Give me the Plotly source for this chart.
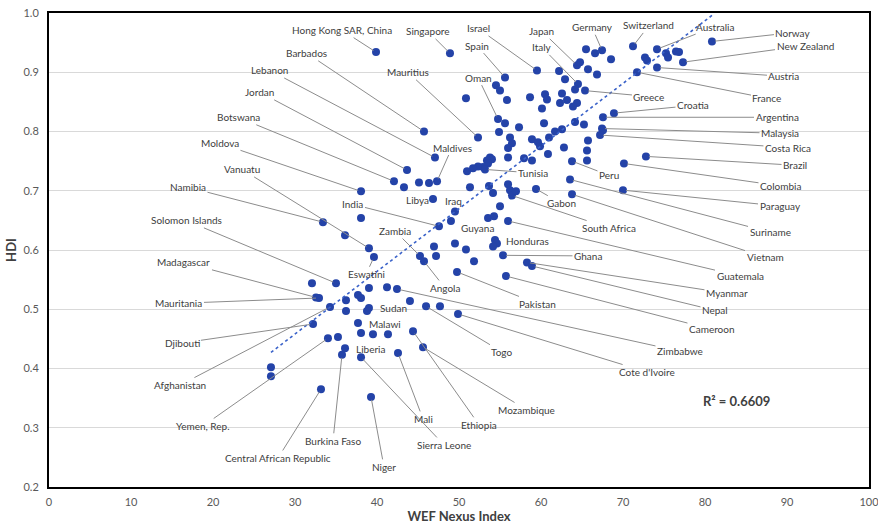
import numpy as np
import plotly.graph_objects as go

# ---- data ----
countries = [
    "Hong Kong SAR, China", "Singapore", "Israel", "Spain", "", "", "Japan", "", "", "",
    "", "", "Germany", "", "Switzerland", "Australia", "", "", "", "",
    "", "", "Norway", "New Zealand", "Austria", "France", "Italy", "", "Greece", "",
    "", "", "", "", "", "", "", "", "", "",
    "", "", "Oman", "", "", "", "", "", "Croatia", "Argentina",
    "Malaysia", "", "Costa Rica", "", "", "", "", "Peru", "Brazil", "Colombia",
    "", "Mauritius", "", "", "", "", "", "", "", "",
    "Barbados", "Lebanon", "", "", "", "", "", "", "", "",
    "", "", "", "", "", "Tunisia", "Jordan", "Botswana", "", "",
    "", "Maldives", "", "", "", "", "", "South Africa", "", "Gabon",
    "Suriname", "Vietnam", "Paraguay", "Moldova", "Libya", "Iraq", "Guyana", "India", "", "",
    "", "Guatemala", "Namibia", "", "", "", "Honduras", "", "", "",
    "", "", "", "Zambia", "Angola", "Ghana", "Myanmar", "Nepal", "Cameroon", "Pakistan",
    "Vanuatu", "Eswatini", "Solomon Islands", "", "Madagascar", "Mauritania", "Afghanistan", "", "", "",
    "", "", "", "Zimbabwe", "", "Sudan", "", "Togo", "", "Cote d'Ivoire",
    "Djibouti", "Malawi", "", "", "", "Ethiopia", "Yemen, Rep.", "", "Liberia", "Burkina Faso",
    "Sierra Leone", "Mali", "Mozambique", "Central African Republic", "Niger", "", "",
]

wef_index = [
    39.88, 48.90, 59.51, 55.61, 62.20, 62.93, 64.39, 64.76, 65.73, 66.83,
    65.49, 66.59, 67.44, 68.54, 71.22, 74.15, 72.68, 72.93, 75.24, 75.49,
    76.46, 76.83, 80.85, 77.32, 74.15, 71.71, 64.51, 64.15, 65.37, 62.56,
    63.17, 62.32, 64.39, 63.90, 54.51, 55.00, 50.85, 55.85, 58.66, 60.49,
    60.73, 60.12, 54.76, 55.61, 57.32, 60.37, 64.15, 65.24, 68.90, 67.56,
    67.44, 67.56, 67.20, 65.73, 65.61, 65.61, 62.80, 63.78, 72.80, 70.12,
    54.88, 52.32, 56.22, 56.46, 58.90, 59.63, 59.88, 60.98, 61.71, 62.56,
    45.73, 47.07, 55.98, 55.98, 57.93, 58.90, 60.85, 53.78, 54.02, 53.41,
    53.54, 52.93, 52.32, 51.71, 50.98, 53.17, 43.66, 42.07, 43.29, 45.12,
    46.34, 47.32, 51.34, 53.66, 54.15, 55.98, 56.22, 56.46, 56.95, 59.39,
    63.54, 63.78, 70.00, 38.05, 46.83, 49.51, 49.02, 47.56, 55.00, 53.54,
    54.27, 55.98, 33.41, 38.05, 36.10, 54.39, 54.63, 54.15, 46.95, 47.20,
    49.51, 50.85, 51.83, 45.24, 45.73, 55.37, 58.29, 58.90, 55.73, 49.76,
    39.02, 39.63, 35.00, 32.07, 32.56, 32.93, 34.27, 36.22, 36.22, 37.68,
    38.05, 39.02, 41.22, 42.44, 44.02, 39.02, 38.78, 45.98, 47.68, 49.88,
    32.20, 37.68, 38.05, 39.51, 41.34, 44.39, 34.02, 35.24, 36.10, 35.73,
    38.05, 42.56, 45.61, 33.17, 39.27, 27.07, 27.07,
]

hdi = [
    0.934, 0.932, 0.903, 0.891, 0.902, 0.888, 0.912, 0.917, 0.905, 0.896,
    0.939, 0.932, 0.937, 0.922, 0.944, 0.939, 0.925, 0.920, 0.932, 0.925,
    0.935, 0.934, 0.952, 0.917, 0.908, 0.900, 0.880, 0.871, 0.869, 0.864,
    0.853, 0.848, 0.848, 0.842, 0.878, 0.869, 0.856, 0.853, 0.858, 0.863,
    0.854, 0.839, 0.821, 0.814, 0.807, 0.814, 0.816, 0.812, 0.831, 0.824,
    0.805, 0.802, 0.794, 0.785, 0.768, 0.751, 0.773, 0.750, 0.758, 0.746,
    0.799, 0.790, 0.790, 0.780, 0.787, 0.782, 0.775, 0.790, 0.800, 0.804,
    0.800, 0.756, 0.772, 0.756, 0.755, 0.751, 0.762, 0.756, 0.753, 0.751,
    0.746, 0.740, 0.741, 0.738, 0.733, 0.736, 0.735, 0.716, 0.706, 0.714,
    0.713, 0.716, 0.706, 0.708, 0.696, 0.711, 0.701, 0.692, 0.699, 0.703,
    0.719, 0.694, 0.701, 0.699, 0.686, 0.665, 0.649, 0.640, 0.674, 0.654,
    0.657, 0.649, 0.647, 0.654, 0.625, 0.617, 0.611, 0.606, 0.606, 0.590,
    0.611, 0.601, 0.581, 0.590, 0.581, 0.591, 0.579, 0.573, 0.556, 0.563,
    0.603, 0.588, 0.544, 0.544, 0.520, 0.519, 0.504, 0.515, 0.497, 0.524,
    0.519, 0.536, 0.537, 0.534, 0.514, 0.502, 0.497, 0.505, 0.505, 0.492,
    0.475, 0.477, 0.460, 0.458, 0.458, 0.463, 0.451, 0.453, 0.434, 0.423,
    0.419, 0.426, 0.436, 0.365, 0.352, 0.402, 0.387,
]

r2_text = "R² = 0.6609"

# label text placement (data coordinates of the label centre)
label_place = {
    "Hong Kong SAR, China": (35.73, 0.971), "Singapore": (46.22, 0.969),
    "Israel": (52.32, 0.974), "Spain": (52.20, 0.945), "Japan": (60.12, 0.969),
    "Italy": (60.12, 0.942), "Barbados": (31.46, 0.932), "Mauritius": (43.78, 0.900),
    "Oman": (52.32, 0.891), "Maldives": (49.15, 0.773), "Tunisia": (59.02, 0.730),
    "Lebanon": (26.95, 0.903), "Jordan": (25.73, 0.866), "Botswana": (23.05, 0.824),
    "Moldova": (20.85, 0.780), "Vanuatu": (23.54, 0.736),
    "Germany": (66.22, 0.976), "Switzerland": (73.17, 0.979), "Australia": (81.22, 0.977),
    "Norway": (90.73, 0.967), "New Zealand": (92.20, 0.945), "Austria": (89.63, 0.893),
    "France": (87.56, 0.856), "Greece": (73.17, 0.859), "Croatia": (78.54, 0.844),
    "Argentina": (88.78, 0.824), "Malaysia": (89.15, 0.797), "Costa Rica": (90.12, 0.773),
    "Brazil": (90.98, 0.743), "Peru": (68.29, 0.726), "Colombia": (89.27, 0.708),
    "Paraguay": (89.15, 0.674), "South Africa": (68.29, 0.637), "Suriname": (87.93, 0.630),
    "Ghana": (65.73, 0.590), "Vietnam": (87.32, 0.588), "Guatemala": (84.27, 0.556),
    "Myanmar": (82.68, 0.527), "Nepal": (81.22, 0.498), "Cameroon": (80.85, 0.466),
    "Zimbabwe": (76.95, 0.429), "Cote d'Ivoire": (72.93, 0.394),
    "Gabon": (62.44, 0.679), "Libya": (44.88, 0.684), "Iraq": (49.27, 0.682),
    "India": (37.07, 0.677), "Zambia": (42.20, 0.632), "Guyana": (52.20, 0.637),
    "Honduras": (58.41, 0.615), "Eswatini": (38.66, 0.559), "Angola": (48.29, 0.536),
    "Pakistan": (59.63, 0.509), "Sudan": (42.07, 0.502), "Malawi": (40.98, 0.475),
    "Namibia": (16.95, 0.706), "Solomon Islands": (16.71, 0.650), "Madagascar": (16.46, 0.579),
    "Mauritania": (15.85, 0.510), "Djibouti": (16.22, 0.443), "Afghanistan": (15.98, 0.372),
    "Yemen, Rep.": (18.78, 0.303), "Central African Republic": (27.93, 0.249),
    "Liberia": (39.15, 0.433), "Togo": (55.24, 0.428), "Mozambique": (58.29, 0.330),
    "Mali": (45.61, 0.315), "Ethiopia": (52.44, 0.305), "Burkina Faso": (34.63, 0.278),
    "Sierra Leone": (48.17, 0.271), "Niger": (40.85, 0.234),
}
no_leader = {"Libya", "Iraq", "Guyana", "Honduras", "Sudan", "Malawi", "Liberia"}

LABEL_FONT = dict(size=10, color="#404040")

# ---- figure ----
fig = go.Figure()

fig.add_trace(go.Scatter(
    x=wef_index, y=hdi, mode="markers",
    marker=dict(size=8, color="#2443a8"),
    text=countries, hoverinfo="text+x+y",
))

coef = np.polyfit(wef_index, hdi, 1)
xs = np.array([min(wef_index), max(wef_index)])
fig.add_trace(go.Scatter(
    x=xs, y=np.polyval(coef, xs), mode="lines",
    line=dict(color="#3a62c9", width=1.6, dash="dot"), hoverinfo="skip",
))

annotations = []
for name, x, y in zip(countries, wef_index, hdi):
    if not name:
        continue
    lx, ly = label_place[name]
    if name in no_leader:
        annotations.append(dict(x=lx, y=ly, xref="x", yref="y", text=name,
                                showarrow=False, font=LABEL_FONT))
    else:
        annotations.append(dict(x=x, y=y, xref="x", yref="y", ax=lx, ay=ly,
                                axref="x", ayref="y", text=name, showarrow=True,
                                arrowhead=0, arrowwidth=1, arrowcolor="#8c8c8c",
                                standoff=3, font=LABEL_FONT))
annotations.append(dict(x=83.78, y=0.345, xref="x", yref="y", text="<b>" + r2_text + "</b>",
                        showarrow=False, font=dict(size=13, color="#404040")))

fig.update_layout(
    width=878, height=528,
    margin=dict(l=49, r=9, t=13, b=41),
    plot_bgcolor="white", paper_bgcolor="white",
    showlegend=False,
    font=dict(family="Lato, Liberation Sans, sans-serif", color="#595959"),
    annotations=annotations,
    xaxis=dict(range=[0, 100], dtick=10, tick0=0, showgrid=False, zeroline=False,
               showline=True, linecolor="black", linewidth=2, mirror=True,
               automargin=False, ticklabelstandoff=4, ticklabeloverflow="allow",
               tickfont=dict(size=11, color="#595959"),
               title=dict(text="<b>WEF Nexus Index</b>", font=dict(size=13, color="#404040"),
                          standoff=4)),
    yaxis=dict(range=[0.2, 1.0], dtick=0.1, tick0=0.2, tickformat=".1f",
               showgrid=True, gridcolor="#d9d9d9", gridwidth=1, zeroline=False,
               showline=True, linecolor="black", linewidth=2, mirror=True,
               automargin=False, ticklabelstandoff=6, ticklabeloverflow="allow",
               tickfont=dict(size=11, color="#595959"),
               title=dict(text="<b>HDI</b>", font=dict(size=13, color="#404040"),
                          standoff=4)),
)

# remove the default page margin so the 878x528 figure fills the window exactly
fig.write_html("out.html",
               config={"displayModeBar": False},
               post_script="document.body.style.margin='0';document.body.style.overflow='hidden';")
